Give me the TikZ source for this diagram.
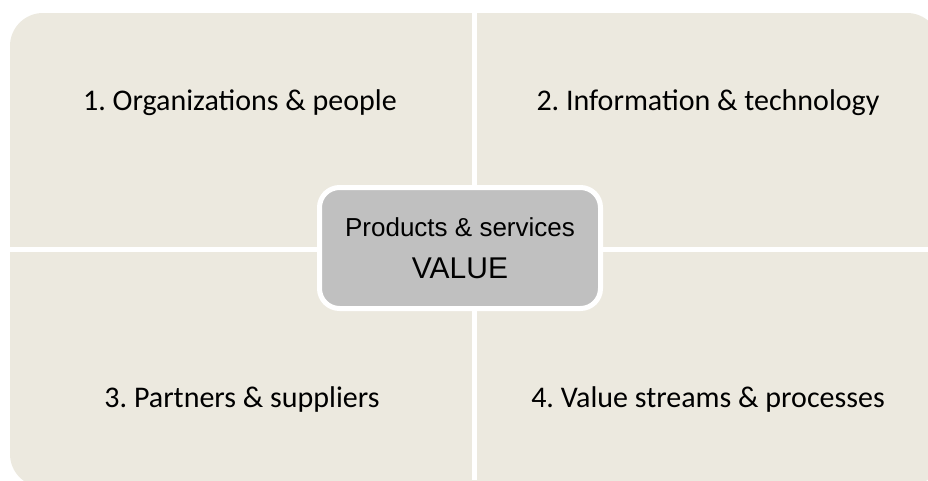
\documentclass[tikz,border=0pt]{standalone}
\usepackage{fontspec}
\setmainfont{Carlito}
\newfontfamily\boxfont{Liberation Sans}
\usepackage{tikz}
\frenchspacing
\definecolor{quadfill}{HTML}{ECE9DF}
\definecolor{valuefill}{HTML}{C0C0C0}
\tikzset{
   quadrant/.style={fill=quadfill, rounded corners=33pt},
   gapline/.style={draw=white, line width=5.5pt},
   quadlabel/.style={anchor=base, inner sep=0pt, text=black,
      font=\fontsize{30}{34}\selectfont},
   valuebox/.style={
      rectangle,
      rounded corners=20pt,
      fill=valuefill,
      draw=white,
      line width=5pt,
      minimum width=281pt,
      minimum height=121pt,
      inner sep=0pt,
      align=center,
      font=\boxfont\fontsize{26}{42}\selectfont},
    }

\begin{document}
\begin{tikzpicture}[x=1pt,y=-1pt]
            \clip (0,0) rectangle (928,480);
            \fill[white] (0,0) rectangle (928,480);
            \fill[quadrant] (10,13) rectangle (940,487);
            \draw[gapline] (474.3,0) -- (474.3,480);
            \draw[gapline] (0,249.4) -- (928,249.4);
            \node[quadlabel] (orgs) at (240,110.7) {1. Organizations \& people};
            \node[quadlabel] (info) at (708,110.7) {2. Information \& technology};
            \node[quadlabel] (partners) at (242,407) {3. Partners \& suppliers};
            \node[quadlabel] (streams) at (708,407) {4. Value streams \& processes};
            \node[valuebox] (value) at (460,248)
               {Products \& services\\
                {\fontsize{30}{42}\selectfont VALUE}};

        \end{tikzpicture}
\end{document}
